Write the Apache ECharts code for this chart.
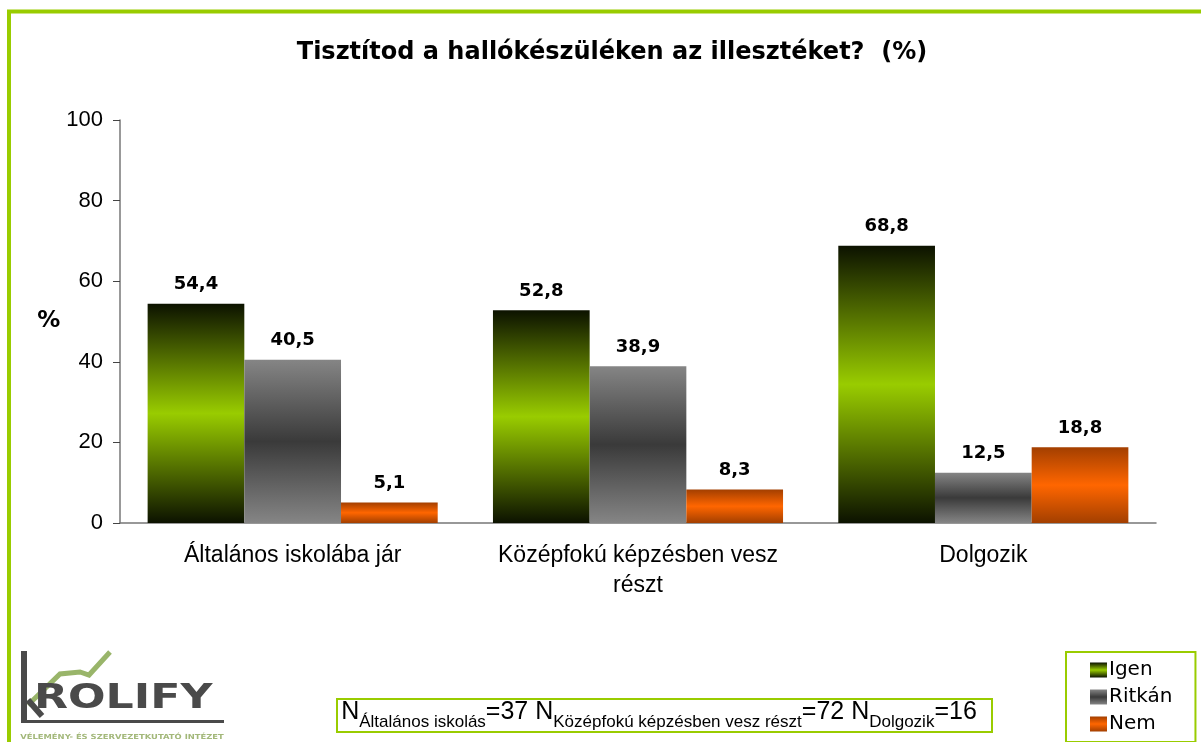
<!DOCTYPE html>
<html>
<head>
<meta charset="utf-8">
<title>Tisztítod a hallókészüléken az illesztéket?</title>
<script src="https://cdn.jsdelivr.net/npm/echarts@6/dist/echarts.min.js"></script>
<style>
  html, body { margin: 0; padding: 0; background: #fff; }
  #chart { width: 1201px; height: 742px; }
</style>
</head>
<body>
<div id="chart"></div>
<script>
const categories = ['Általános iskolába jár', 'Középfokú képzésben vesz részt', 'Dolgozik'];
const seriesNames = ['Igen', 'Ritkán', 'Nem'];
const igenValues = [54.4, 52.8, 68.8];
const ritkanValues = [40.5, 38.9, 12.5];
const nemValues = [5.1, 8.3, 18.8];
const yTicks = { min: 0, max: 100, interval: 20 };
const sampleSizes = [['Általános iskolás', 37], ['Középfokú képzésben vesz részt', 72], ['Dolgozik', 16]];

const chart = echarts.init(document.getElementById('chart'));

// vertical gradient: dark edges, bright middle (Excel look)
function grad(edge, mid) {
  return new echarts.graphic.LinearGradient(0, 0, 0, 1, [
    { offset: 0, color: edge },
    { offset: 0.5, color: mid },
    { offset: 1, color: edge }
  ]);
}
const colors = [
  grad('#0c1200', '#99cc00'),
  grad('#858585', '#3a3a3a'),
  grad('#a33f00', '#ff6600')
];

function fmt(v) {
  return v.toFixed(1).replace('.', ',');
}

// long category names: last word goes to a second line
function wrapLabel(v) {
  return v.length > 25 ? v.replace(/ (\S+)$/, '\n$1') : v;
}

function makeSeries(name, data, color) {
  return {
    name: name,
    type: 'bar',
    data: data,
    barGap: '0%',
    barCategoryGap: '16%',
    itemStyle: { color: color },
    label: {
      show: true,
      position: 'top',
      distance: 10,
      formatter: p => fmt(p.value),
      fontFamily: 'DejaVu Sans',
      fontWeight: 'bold',
      fontSize: 18,
      color: '#000'
    }
  };
}

// footnote rich text
let foot = '';
sampleSizes.forEach((s, i) => {
  foot += (i ? '{n| N}' : '{n|N}') + '{s|' + s[0] + '}{n|=' + s[1] + '}';
});

chart.setOption({
  animation: false,
  title: {
    text: 'Tisztítod a hallókészüléken az illesztéket?  (%)',
    left: 607,
    top: 36,
    textAlign: 'center',
    textStyle: { fontFamily: 'DejaVu Sans', fontWeight: 'bold', fontSize: 24, color: '#000' }
  },
  legend: {
    orient: 'vertical',
    left: 1066,
    top: 652,
    padding: [8, 23, 8, 24],
    borderColor: '#99cc00',
    borderWidth: 2,
    itemWidth: 17,
    itemHeight: 15,
    itemGap: 7,
    icon: 'rect',
    data: seriesNames,
    textStyle: { fontFamily: 'DejaVu Sans', fontSize: 20, lineHeight: 20, color: '#000', padding: [0, 0, 0, -3] }
  },
  grid: { left: 120, right: 45, top: 120, bottom: 219 },
  xAxis: {
    type: 'category',
    data: categories,
    axisLine: { lineStyle: { color: '#777', width: 1.5 } },
    axisTick: { length: 7, lineStyle: { color: '#444' } },
    axisLabel: {
      interval: 0,
      margin: 18,
      formatter: wrapLabel,
      lineHeight: 30,
      fontFamily: 'Liberation Sans',
      fontSize: 23,
      color: '#000'
    }
  },
  yAxis: {
    type: 'value',
    min: yTicks.min,
    max: yTicks.max,
    interval: yTicks.interval,
    name: '%',
    nameLocation: 'middle',
    nameRotate: 0,
    nameGap: 55,
    nameTextStyle: { fontFamily: 'DejaVu Sans', fontWeight: 'bold', fontSize: 23, color: '#000' },
    splitLine: { show: false },
    axisLine: { show: true, lineStyle: { color: '#777', width: 1.5 } },
    axisTick: { show: true, length: 7, lineStyle: { color: '#444' } },
    axisLabel: { margin: 17, fontFamily: 'Liberation Sans', fontSize: 22, color: '#000' }
  },
  series: [
    makeSeries(seriesNames[0], igenValues, colors[0]),
    makeSeries(seriesNames[1], ritkanValues, colors[1]),
    makeSeries(seriesNames[2], nemValues, colors[2])
  ],
  graphic: [
    // green frame (top and left)
    { type: 'line', shape: { x1: 7, y1: 11.5, x2: 1201, y2: 11.5 }, style: { stroke: '#99cc00', lineWidth: 4 } },
    { type: 'line', shape: { x1: 9, y1: 10, x2: 9, y2: 742 }, style: { stroke: '#99cc00', lineWidth: 4 } },
    // footnote box
    { type: 'rect', shape: { x: 337, y: 699, width: 655, height: 33 }, style: { fill: '#fff', stroke: '#99cc00', lineWidth: 2 } },
    {
      type: 'text',
      x: 659, y: 731,
      style: {
        text: foot,
        align: 'center',
        verticalAlign: 'bottom',
        fill: '#000',
        rich: {
          n: { fontFamily: 'Liberation Sans', fontSize: 25, lineHeight: 25, padding: [0, 0, 6, 0], verticalAlign: 'bottom' },
          s: { fontFamily: 'Liberation Sans', fontSize: 17, lineHeight: 17, verticalAlign: 'bottom' }
        }
      }
    },
    // logo
    {
      type: 'group',
      children: [
        { type: 'polyline', shape: { points: [[28, 705], [60, 674], [80, 672], [89, 675], [110, 652]] }, style: { stroke: '#99b56a', lineWidth: 5, fill: null } },
        { type: 'line', shape: { x1: 28, y1: 700, x2: 42, y2: 716 }, style: { stroke: '#4a4a4a', lineWidth: 6 } },
        { type: 'rect', shape: { x: 21, y: 651, width: 6, height: 72 }, style: { fill: '#4a4a4a' } },
        { type: 'rect', shape: { x: 21, y: 720, width: 203, height: 3 }, style: { fill: '#4a4a4a' } },
        {
          type: 'text', x: 34, y: 716, scaleX: 1.3,
          style: { text: 'ROLIFY', fontFamily: 'DejaVu Sans', fontWeight: 'bold', fontSize: 34, fill: '#4a4a4a', verticalAlign: 'bottom' }
        },
        {
          type: 'text', x: 122, y: 737, scaleX: 1.2,
          style: { text: 'VÉLEMÉNY- ÉS SZERVEZETKUTATÓ INTÉZET', fontFamily: 'DejaVu Sans', fontWeight: 'bold', fontSize: 7, fill: '#a3b87a', align: 'center', verticalAlign: 'middle' }
        }
      ]
    }
  ]
});
</script>
</body>
</html>
